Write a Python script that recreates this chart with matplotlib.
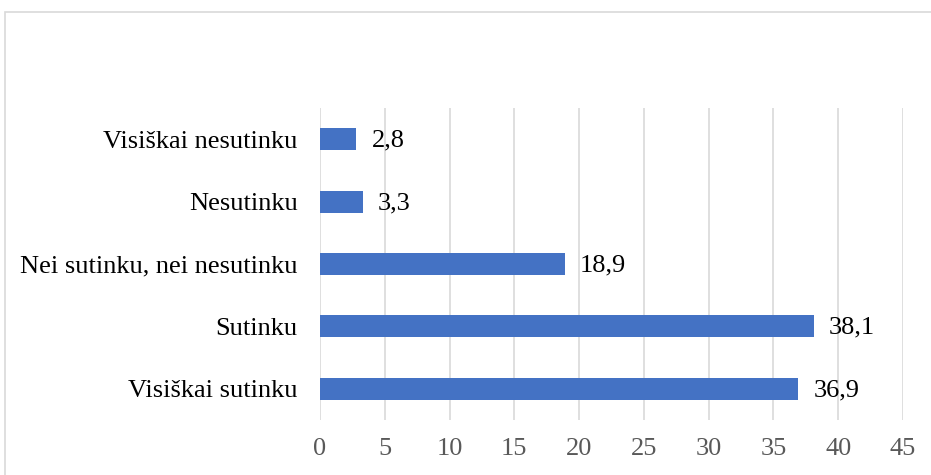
import matplotlib.pyplot as plt
from matplotlib.patches import Rectangle

categories = ['Visiškai sutinku', 'Sutinku', 'Nei sutinku, nei nesutinku',
              'Nesutinku', 'Visiškai nesutinku']
values = [36.9, 38.1, 18.9, 3.3, 2.8]
labels = ['36,9', '38,1', '18,9', '3,3', '2,8']
xticks = [0, 5, 10, 15, 20, 25, 30, 35, 40, 45]

plt.rcParams['font.family'] = ['Liberation Serif', 'DejaVu Serif']

fig = plt.figure(figsize=(9.31, 4.75), dpi=100)
ax = fig.add_axes([0.3437, 0.1158, 0.6263, 0.6568])

# chart frame (cut off at right and bottom like in the original)
fig.patches.append(Rectangle((5 / 931, -0.1), 1.2, 1 - 12 / 475 + 0.1,
                             transform=fig.transFigure, fill=False,
                             edgecolor='#D9D9D9', linewidth=1.2))

y = range(len(categories))
ax.barh(y, values, height=0.35, color='#4472C4', zorder=3)
for i, v in enumerate(values):
    ax.annotate(labels[i], (v, i), xytext=(11, -1), textcoords='offset points',
                va='center', ha='left', fontsize=19, color='black')

ax.set_xlim(0, 45)
ax.set_ylim(-0.5, len(categories) - 0.5)
ax.set_xticks(xticks)
ax.set_xticklabels([str(t) for t in xticks], fontsize=19, color='#595959')
ax.set_yticks(list(y))
ax.set_yticklabels(categories, fontsize=19, color='black')
ax.tick_params(axis='both', length=0)
ax.tick_params(axis='x', pad=13)
ax.tick_params(axis='y', pad=16)
ax.grid(axis='x', color='#D9D9D9', linewidth=1.2, zorder=0)
for s in ax.spines.values():
    s.set_visible(False)

fig.savefig('out.png', dpi=100)
